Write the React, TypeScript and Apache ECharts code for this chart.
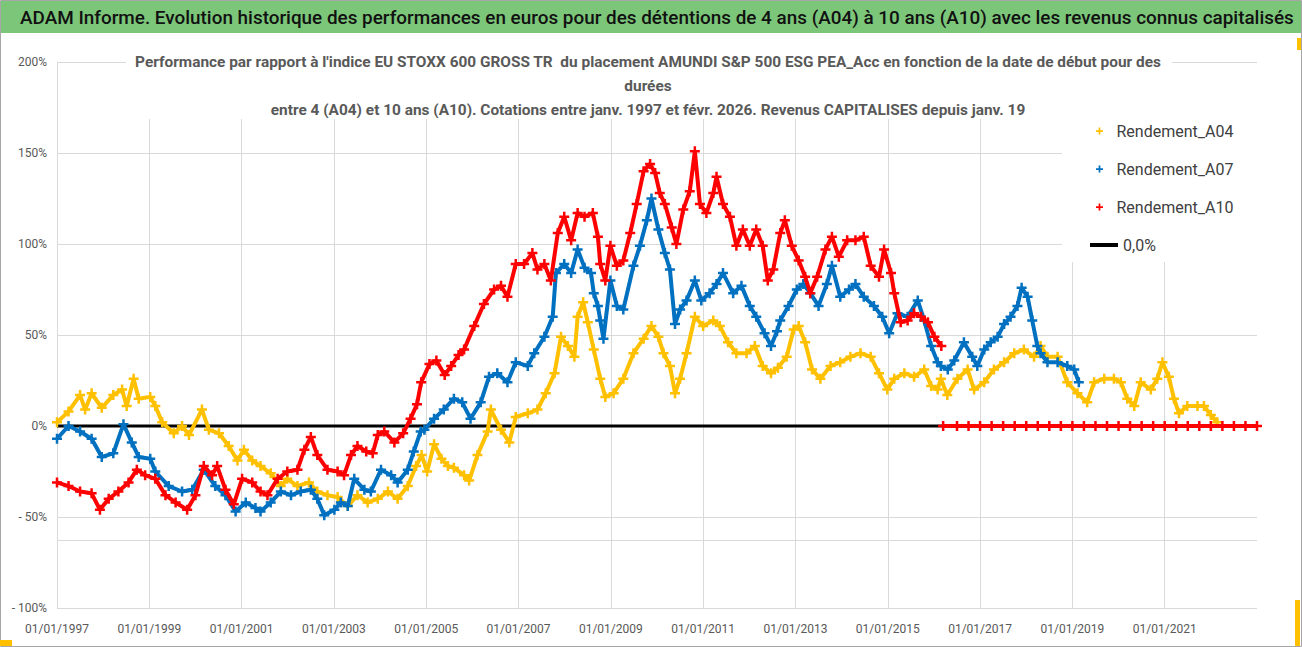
import React, { useEffect, useRef } from "react";
import * as echarts from "echarts";

// ---------- texts ----------
const HEADER =
  "ADAM Informe. Evolution historique des performances en euros pour des détentions de 4 ans (A04) à 10 ans (A10) avec les revenus connus capitalisés";
const SUBTITLE_LINES = [
  "Performance par rapport à l'indice EU STOXX 600 GROSS TR  du placement AMUNDI S&P 500 ESG PEA_Acc en fonction de la date de début pour des",
  "durées",
  "entre 4 (A04) et 10 ans (A10). Cotations entre janv. 1997 et févr. 2026. Revenus CAPITALISES depuis janv. 19",
];
const SERIES_NAMES = ["Rendement_A04", "Rendement_A07", "Rendement_A10"];
const ZERO_NAME = "0,0%";

// ---------- axes ----------
const X_START_YEAR = 1997; // 01/01/1997
const X_END_YEAR = 2023;
const X_TICK_STEP_YEARS = 2;
const LAST_X_LABEL_YEAR = 2021;
const Y_MIN = -100;
const Y_MAX = 200;
const Y_STEP = 50;
const EXTRA_GRID_Y = -62.5;

// ---------- data: [decimal year, performance %] ----------
const rendementA04: [number, number][] = [
  [1997.0, 2], [1997.25, 8], [1997.5, 17], [1997.61, 9], [1997.75, 18], [1997.97, 10],
  [1998.22, 17], [1998.41, 20], [1998.51, 11], [1998.66, 26], [1998.77, 15], [1999.02, 16],
  [1999.13, 11], [1999.28, 2], [1999.53, -4], [1999.71, 0], [1999.86, -5], [2000.14, 9],
  [2000.29, -2], [2000.51, -4], [2000.72, -11], [2000.91, -19], [2001.05, -13], [2001.23, -19],
  [2001.41, -22], [2001.63, -26], [2001.85, -33], [2001.99, -29], [2002.21, -33], [2002.46, -31],
  [2002.64, -36], [2002.86, -38], [2003.08, -39], [2003.3, -44], [2003.51, -38], [2003.73, -42],
  [2003.95, -40], [2004.17, -36], [2004.38, -40], [2004.6, -33], [2004.78, -22], [2004.9, -16],
  [2005.02, -25], [2005.17, -10], [2005.33, -18], [2005.47, -22], [2005.6, -23], [2005.82, -27],
  [2005.93, -30], [2006.11, -16], [2006.33, -3], [2006.4, 9], [2006.62, -2], [2006.8, -9],
  [2006.94, 5], [2007.2, 7], [2007.41, 9], [2007.59, 18], [2007.78, 29], [2007.92, 49],
  [2008.07, 44], [2008.21, 38], [2008.28, 60], [2008.4, 68], [2008.5, 57], [2008.63, 42],
  [2008.77, 26], [2008.88, 16], [2009.06, 18], [2009.27, 26], [2009.49, 40], [2009.71, 48],
  [2009.88, 55], [2010.03, 49], [2010.14, 40], [2010.28, 33], [2010.39, 18], [2010.5, 26],
  [2010.64, 40], [2010.82, 60], [2011.0, 55], [2011.22, 58], [2011.36, 55], [2011.54, 46],
  [2011.72, 40], [2011.94, 40], [2012.12, 44], [2012.29, 33], [2012.47, 29], [2012.62, 32],
  [2012.81, 38], [2012.96, 53], [2013.07, 55], [2013.21, 46], [2013.36, 31], [2013.54, 26],
  [2013.76, 33], [2013.97, 35], [2014.19, 38], [2014.41, 40], [2014.63, 38], [2014.81, 29],
  [2014.99, 20], [2015.14, 26], [2015.36, 29], [2015.57, 27], [2015.79, 31], [2015.94, 22],
  [2016.08, 20], [2016.15, 26], [2016.29, 17], [2016.51, 26], [2016.73, 31], [2016.87, 20],
  [2017.09, 24], [2017.3, 31], [2017.52, 35], [2017.74, 40], [2017.95, 42], [2018.17, 38],
  [2018.31, 44], [2018.46, 38], [2018.68, 38], [2018.89, 24], [2019.11, 18], [2019.32, 13],
  [2019.47, 24], [2019.69, 26], [2019.9, 26], [2020.05, 24], [2020.19, 15], [2020.34, 11],
  [2020.48, 24], [2020.7, 20], [2020.84, 26], [2020.95, 35], [2021.09, 27], [2021.2, 15],
  [2021.31, 7], [2021.49, 11], [2021.71, 11], [2021.85, 11], [2022.0, 6], [2022.14, 2],
];

const rendementA07: [number, number][] = [
  [1997.0, -7], [1997.25, 0], [1997.5, -3], [1997.75, -7], [1997.97, -17], [1998.22, -15],
  [1998.44, 1], [1998.62, -9], [1998.77, -17], [1999.02, -18], [1999.13, -25], [1999.42, -33],
  [1999.71, -36], [1999.93, -35], [2000.18, -24], [2000.43, -33], [2000.65, -38], [2000.87, -47],
  [2001.09, -42], [2001.3, -45], [2001.41, -47], [2001.63, -42], [2001.85, -36], [2002.07, -38],
  [2002.28, -36], [2002.5, -35], [2002.64, -40], [2002.79, -49], [2003.01, -46], [2003.15, -42],
  [2003.3, -44], [2003.44, -29], [2003.66, -35], [2003.8, -36], [2004.02, -24], [2004.24, -27],
  [2004.38, -31], [2004.6, -24], [2004.73, -14], [2004.88, -3], [2004.96, -2], [2005.17, 4],
  [2005.38, 9], [2005.6, 15], [2005.78, 13], [2005.96, 4], [2006.18, 13], [2006.36, 27],
  [2006.54, 29], [2006.76, 24], [2006.94, 35], [2007.2, 33], [2007.34, 40], [2007.56, 49],
  [2007.74, 60], [2007.81, 84], [2007.99, 89], [2008.14, 84], [2008.28, 97], [2008.43, 87],
  [2008.57, 84], [2008.63, 73], [2008.72, 66], [2008.77, 58], [2008.84, 48], [2008.99, 80],
  [2009.13, 66], [2009.27, 64], [2009.49, 88], [2009.63, 99], [2009.78, 113], [2009.88, 125],
  [2010.03, 108], [2010.17, 95], [2010.28, 86], [2010.39, 56], [2010.5, 64], [2010.64, 69],
  [2010.82, 80], [2010.96, 69], [2011.14, 73], [2011.29, 78], [2011.43, 84], [2011.65, 73],
  [2011.83, 77], [2012.01, 66], [2012.15, 60], [2012.33, 51], [2012.47, 44], [2012.6, 52],
  [2012.67, 58], [2012.85, 66], [2013.03, 75], [2013.17, 78], [2013.32, 73], [2013.5, 66],
  [2013.68, 78], [2013.79, 88], [2013.97, 71], [2014.16, 75], [2014.3, 78], [2014.48, 71],
  [2014.7, 66], [2014.88, 60], [2015.03, 51], [2015.21, 62], [2015.43, 60], [2015.65, 69],
  [2015.79, 58], [2015.94, 44], [2016.08, 35], [2016.15, 33], [2016.3, 31], [2016.44, 36],
  [2016.65, 46], [2016.83, 38], [2016.94, 33], [2017.09, 42], [2017.23, 46], [2017.38, 49],
  [2017.52, 56], [2017.66, 60], [2017.81, 66], [2017.9, 76], [2018.03, 71], [2018.13, 58],
  [2018.24, 44], [2018.31, 40], [2018.46, 35], [2018.68, 35], [2018.89, 33], [2019.04, 31],
  [2019.14, 24],
];

const rendementA10: [number, number][] = [
  [1997.0, -31], [1997.25, -33], [1997.5, -36], [1997.75, -37], [1997.93, -46], [1998.12, -40],
  [1998.33, -36], [1998.55, -31], [1998.73, -24], [1998.91, -27], [1999.13, -29], [1999.35, -38],
  [1999.57, -42], [1999.82, -46], [2000.0, -38], [2000.18, -22], [2000.36, -27], [2000.47, -22],
  [2000.65, -35], [2000.83, -43], [2001.01, -29], [2001.23, -31], [2001.41, -36], [2001.56, -38],
  [2001.78, -29], [2001.99, -25], [2002.21, -24], [2002.36, -13], [2002.5, -6], [2002.64, -16],
  [2002.86, -24], [2003.08, -25], [2003.22, -27], [2003.37, -16], [2003.51, -11], [2003.7, -14],
  [2003.84, -15], [2003.95, -5], [2004.09, -3], [2004.31, -9], [2004.5, -4], [2004.66, 4],
  [2004.8, 12], [2004.89, 24], [2005.07, 34], [2005.22, 36], [2005.4, 28], [2005.54, 33],
  [2005.7, 39], [2005.82, 42], [2006.04, 55], [2006.25, 67], [2006.47, 75], [2006.62, 77],
  [2006.76, 71], [2006.94, 89], [2007.12, 89], [2007.3, 95], [2007.41, 86], [2007.56, 89],
  [2007.7, 80], [2007.85, 106], [2007.99, 115], [2008.14, 102], [2008.28, 117], [2008.43, 115],
  [2008.61, 117], [2008.72, 104], [2008.77, 89], [2008.88, 80], [2008.99, 99], [2009.13, 88],
  [2009.27, 91], [2009.42, 106], [2009.56, 122], [2009.71, 140], [2009.85, 144], [2009.96, 139],
  [2010.06, 128], [2010.17, 122], [2010.32, 109], [2010.42, 100], [2010.57, 119], [2010.71, 129],
  [2010.82, 151], [2010.93, 122], [2011.07, 117], [2011.22, 128], [2011.29, 137], [2011.43, 122],
  [2011.58, 115], [2011.72, 99], [2011.86, 108], [2012.01, 99], [2012.15, 108], [2012.29, 99],
  [2012.4, 80], [2012.52, 86], [2012.67, 106], [2012.77, 113], [2012.92, 99], [2013.07, 91],
  [2013.21, 82], [2013.32, 73], [2013.47, 82], [2013.65, 97], [2013.79, 104], [2013.94, 93],
  [2014.12, 102], [2014.3, 102], [2014.48, 104], [2014.63, 88], [2014.81, 82], [2014.92, 97],
  [2015.07, 84], [2015.14, 73], [2015.28, 57], [2015.43, 58], [2015.57, 62], [2015.72, 60],
  [2015.87, 57], [2016.01, 49], [2016.16, 44],
];

// A10 after its last 10-year window: value shown as 0
const rendementA10Empty: [number, number][] = [
  [2016.2, 0], [2016.5, 0], [2016.75, 0], [2017.0, 0], [2017.25, 0], [2017.5, 0], [2017.75, 0],
  [2018.0, 0], [2018.25, 0], [2018.5, 0], [2018.75, 0], [2019.0, 0], [2019.25, 0], [2019.5, 0],
  [2019.75, 0], [2020.0, 0], [2020.25, 0], [2020.5, 0], [2020.75, 0], [2021.0, 0], [2021.25, 0],
  [2021.5, 0], [2021.75, 0], [2022.0, 0], [2022.25, 0], [2022.5, 0], [2022.75, 0], [2023.0, 0],
];

const zeroLine: [number, number][] = [
  [1997.0, 0],
  [2023.0, 0],
];

// ---------- style ----------
const COLORS = ["#FFC000", "#0070C0", "#FF0000"];
const GRID_COLOR = "#d9d9d9";
const LABEL_COLOR = "#595959";
const FONT = "Roboto, 'Noto Sans', 'Liberation Sans', sans-serif";
const PLUS = "path://M3,0H5V3H8V5H5V8H3V5H0V3H3Z";

const toT = (pts: [number, number][]) =>
  pts.map(([y, v]) => [+(y - X_START_YEAR).toFixed(4), v] as [number, number | null]);

export default function App() {
  const ref = useRef<HTMLDivElement>(null);

  useEffect(() => {
    if (!ref.current) return;
    const chart = echarts.init(ref.current, undefined, { renderer: "svg" });

    const a10Data = [
      ...toT(rendementA10),
      [+(rendementA10[rendementA10.length - 1][0] - X_START_YEAR + 0.01).toFixed(4), null],
      ...toT(rendementA10Empty),
    ];
    const dataSets = [toT(rendementA04), toT(rendementA07), a10Data];

    const scatterLike = SERIES_NAMES.map((name, i) => ({
      name,
      type: "line",
      data: dataSets[i],
      symbol: PLUS,
      symbolSize: 10,
      showAllSymbol: true,
      connectNulls: false,
      lineStyle: { color: COLORS[i], width: 4 },
      itemStyle: { color: COLORS[i] },
      z: 3 + i,
      silent: true,
    }));

    const option: any = {
      animation: false,
      backgroundColor: "#ffffff",
      title: [
        {
          text: HEADER,
          left: 20,
          top: 4,
          padding: 0,
          textStyle: {
            fontFamily: FONT,
            fontSize: 18.9,
            fontWeight: 500,
            color: "#111111",
            lineHeight: 26,
          },
          z: 8,
        },
      ],
      legend: [
        {
          data: SERIES_NAMES,
          orient: "vertical",
          left: 1091,
          top: 118,
          itemGap: 22,
          itemWidth: 24,
          itemHeight: 7,
          icon: PLUS,
          selectedMode: false,
          textStyle: { fontFamily: FONT, fontSize: 16, color: "#404040" },
          z: 10,
        },
        {
          data: [ZERO_NAME],
          orient: "vertical",
          left: 1085,
          top: 232,
          itemWidth: 28,
          itemHeight: 4,
          icon: "rect",
          selectedMode: false,
          textStyle: { fontFamily: FONT, fontSize: 16, color: "#404040" },
          z: 10,
        },
      ],
      grid: { left: 57, right: 45, top: 62, bottom: 39, containLabel: false },
      xAxis: {
        type: "value",
        min: 0,
        max: X_END_YEAR - X_START_YEAR,
        interval: X_TICK_STEP_YEARS,
        axisLine: { show: true, lineStyle: { color: GRID_COLOR, width: 1 } },
        axisTick: { show: false },
        axisLabel: {
          color: LABEL_COLOR,
          fontFamily: FONT,
          fontSize: 12,
          margin: 15,
          showMaxLabel: false,
          formatter: (v: number) => {
            const yr = X_START_YEAR + Math.round(v);
            return yr <= LAST_X_LABEL_YEAR ? "01/01/" + yr : "";
          },
        },
        splitLine: {
          show: true,
          showMaxLine: false,
          lineStyle: { color: GRID_COLOR, width: 1 },
        },
      },
      yAxis: {
        type: "value",
        min: Y_MIN,
        max: Y_MAX,
        interval: Y_STEP,
        axisLine: { show: true, lineStyle: { color: GRID_COLOR, width: 1 } },
        axisTick: { show: false },
        axisLabel: {
          color: LABEL_COLOR,
          fontFamily: FONT,
          fontSize: 12,
          margin: 10,
          formatter: (v: number) => (v < 0 ? "- " + Math.abs(v) + "%" : v + "%"),
        },
        splitLine: { show: true, lineStyle: { color: GRID_COLOR, width: 1 } },
      },
      graphic: [
        {
          type: "rect",
          shape: { x: 0.5, y: 0.5, width: 1301, height: 646 },
          style: { fill: "none", stroke: "#a6a6a6", lineWidth: 1 },
          z: 0,
          silent: true,
        },
        {
          type: "rect",
          shape: { x: 1, y: 1, width: 1300, height: 32 },
          style: { fill: "#7CC67A" },
          z: 1,
          silent: true,
        },
        {
          type: "rect",
          shape: { x: 126, y: 47, width: 1046, height: 72 },
          style: { fill: "#ffffff" },
          z: 9,
          silent: true,
        },
        {
          type: "text",
          x: 648,
          y: 50,
          z: 10,
          silent: true,
          style: {
            text: SUBTITLE_LINES.join("\n"),
            align: "center",
            verticalAlign: "top",
            fontFamily: FONT,
            fontSize: 15.4,
            fontWeight: "bold",
            lineHeight: 24,
            fill: LABEL_COLOR,
          },
        },
        {
          type: "rect",
          shape: { x: 1062, y: 110, width: 234, height: 152 },
          style: { fill: "#ffffff" },
          z: 9,
          silent: true,
        },
        {
          type: "rect",
          shape: { x: 0, y: 640, width: 12, height: 6 },
          style: { fill: "#FFC000" },
          z: 9,
          silent: true,
        },
        {
          type: "rect",
          shape: { x: 1297, y: 38, width: 4, height: 12 },
          style: { fill: "#FFC000" },
          z: 9,
          silent: true,
        },
        {
          type: "rect",
          shape: { x: 1295, y: 600, width: 5, height: 46 },
          style: { fill: "#FFC000" },
          z: 9,
          silent: true,
        },
      ],
      series: [
        {
          name: ZERO_NAME,
          type: "line",
          data: toT(zeroLine),
          symbol: "none",
          lineStyle: { color: "#000000", width: 3 },
          itemStyle: { color: "#000000" },
          z: 2,
          silent: true,
          markLine: {
            silent: true,
            symbol: "none",
            label: { show: false },
            lineStyle: { color: GRID_COLOR, width: 1, type: "solid" },
            data: [{ yAxis: EXTRA_GRID_Y }],
          },
        },
        ...scatterLike,
      ],
    };

    chart.setOption(option);
    return () => chart.dispose();
  }, []);

  return (
    <div
      ref={ref}
      style={{ position: "fixed", left: 0, top: 0, width: 1302, height: 647 }}
    />
  );
}
